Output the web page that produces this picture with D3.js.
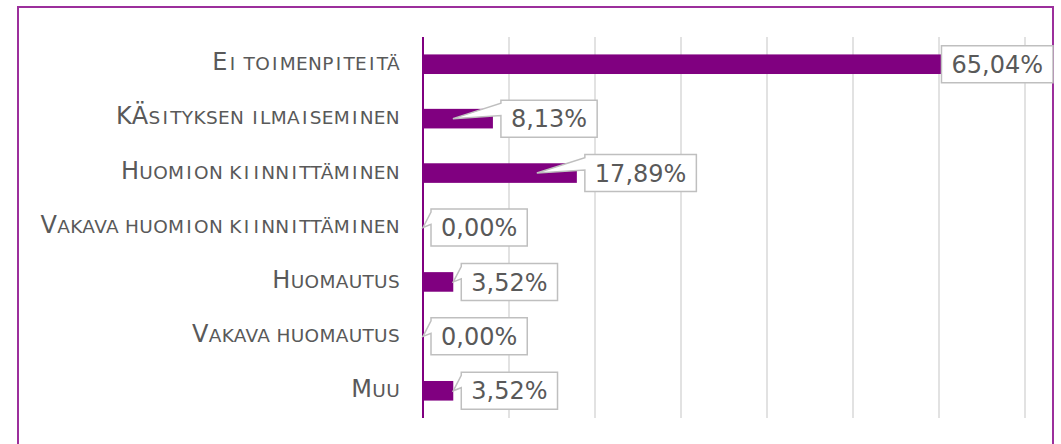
<!DOCTYPE html>
<html>
<head>
<meta charset="utf-8">
<script src="https://cdn.jsdelivr.net/npm/d3@7"></script>
<style>
  html, body { margin: 0; padding: 0; background: #fff; }
  svg { display: block; }
</style>
</head>
<body>
<div id="chart"></div>
<script>
// Horizontal bar chart, percentages with callout labels (Excel-style).

const CATEGORIES = [
  "Ei toimenpiteitä",
  "KÄsityksen ilmaiseminen",
  "Huomion kiinnittäminen",
  "Vakava huomion kiinnittäminen",
  "Huomautus",
  "Vakava huomautus",
  "Muu",
];
const VALUES = [65.04, 8.13, 17.89, 0.00, 3.52, 0.00, 3.52];
const GRID_TICKS = [10, 20, 30, 40, 50, 60, 70];

const W = 1061, H = 444;
const BAR_COLOR   = "#800080";
const FRAME_COLOR = "#9c2f9c";
const TEXT_COLOR  = "#595959";
const BOX_STROKE  = "#bfbfbf";

const plot = { left: 423, right: 1025, top: 37, bottom: 418 };
const frame = { x: 18, y: 7, w: 1035 };

const svg = d3.select("#chart").append("svg")
  .attr("width", W)
  .attr("height", H);

// ── Frame ────────────────────────────────────────────────────────────────────
svg.append("rect")
  .attr("x", frame.x).attr("y", frame.y)
  .attr("width", frame.w).attr("height", H + 20)
  .attr("fill", "none")
  .attr("stroke", FRAME_COLOR)
  .attr("stroke-width", 2);

// ── Scales ───────────────────────────────────────────────────────────────────
const x = d3.scaleLinear().domain([0, 70]).range([plot.left, plot.right]);
const y = d3.scaleBand()
  .domain(CATEGORIES)
  .range([plot.top, plot.bottom])
  .paddingInner(0.64)
  .paddingOuter(0.32);

// ── Gridlines ────────────────────────────────────────────────────────────────
svg.append("g")
  .selectAll("line")
  .data(GRID_TICKS)
  .join("line")
    .attr("x1", d => x(d)).attr("x2", d => x(d))
    .attr("y1", plot.top).attr("y2", plot.bottom)
    .attr("stroke", "#d9d9d9")
    .attr("stroke-width", 1.5);

// ── Bars ─────────────────────────────────────────────────────────────────────
svg.append("g")
  .selectAll("rect")
  .data(VALUES)
  .join("rect")
    .attr("x", x(0))
    .attr("y", (d, i) => y(CATEGORIES[i]))
    .attr("width", d => x(d) - x(0))
    .attr("height", y.bandwidth())
    .attr("fill", BAR_COLOR);

// ── Axis line ────────────────────────────────────────────────────────────────
svg.append("line")
  .attr("x1", x(0)).attr("x2", x(0))
  .attr("y1", plot.top).attr("y2", plot.bottom)
  .attr("stroke", BAR_COLOR)
  .attr("stroke-width", 2);

// ── Category labels (small caps built by hand) ──────────────────────────────
// Verdana's "I" is much wider than DejaVu's, so pad it a little.
const BIG = 24, SMALL = 18.5, LS = 0.3, I_PAD = 2;
const labels = svg.append("g")
  .attr("font-family", "'DejaVu Sans', Verdana, sans-serif")
  .attr("fill", TEXT_COLOR);

CATEGORIES.forEach(cat => {
  const t = labels.append("text")
    .attr("x", 400)
    .attr("y", y(cat) + y.bandwidth() / 2)
    .attr("dy", "0.36em")
    .attr("text-anchor", "end")
    .attr("letter-spacing", LS);
  let prevUpper = false;
  for (const ch of cat) {
    const upper = ch === " " ? prevUpper : ch === ch.toUpperCase();
    prevUpper = upper;
    const c = ch.toUpperCase();
    const ts = t.append("tspan")
      .attr("font-size", upper ? BIG : SMALL)
      .text(c);
    if (c === "I") {
      ts.attr("dx", I_PAD).attr("letter-spacing", LS + I_PAD);
    }
  }
});

// ── Callout data labels ─────────────────────────────────────────────────────
const fmt = v => v.toFixed(2).replace(".", ",") + "%";
const BOX_H = 37, PAD = 10, GAP = 8;
const callouts = svg.append("g");

VALUES.forEach((v, i) => {
  const cy = y(CATEGORIES[i]) + y.bandwidth() / 2;
  const end = x(v);
  const g = callouts.append("g");

  const txt = g.append("text")
    .attr("font-family", "'DejaVu Sans', Verdana, sans-serif")
    .attr("font-size", 24)
    .attr("fill", TEXT_COLOR)
    .attr("dy", "0.36em")
    .text(fmt(v));
  const tw = txt.node().getComputedTextLength();
  const bw = tw + PAD * 2;

  let x0 = end + GAP;
  let hasTail = true;
  if (x0 + bw > frame.x + frame.w) {
    x0 = frame.x + frame.w - bw;
    hasTail = false;
  }
  const y0 = cy - BOX_H / 2, x1 = x0 + bw, y1 = y0 + BOX_H;

  const len = end - x(0);
  const tipX = len > 40 ? end - 40 : end;
  const tipY = cy;

  const p = d3.path();
  p.moveTo(x0, y0);
  p.lineTo(x1, y0);
  p.lineTo(x1, y1);
  p.lineTo(x0, y1);
  if (hasTail) {
    p.lineTo(x0, y0 + BOX_H * 5 / 12);
    p.lineTo(tipX, tipY);
    p.lineTo(x0, y0 + BOX_H / 12);
  }
  p.closePath();

  g.insert("path", "text")
    .attr("d", p.toString())
    .attr("fill", "#fff")
    .attr("stroke", BOX_STROKE)
    .attr("stroke-width", 1.5)
    .attr("stroke-linejoin", "miter");

  txt.attr("x", x0 + PAD).attr("y", cy);
});
</script>
</body>
</html>
